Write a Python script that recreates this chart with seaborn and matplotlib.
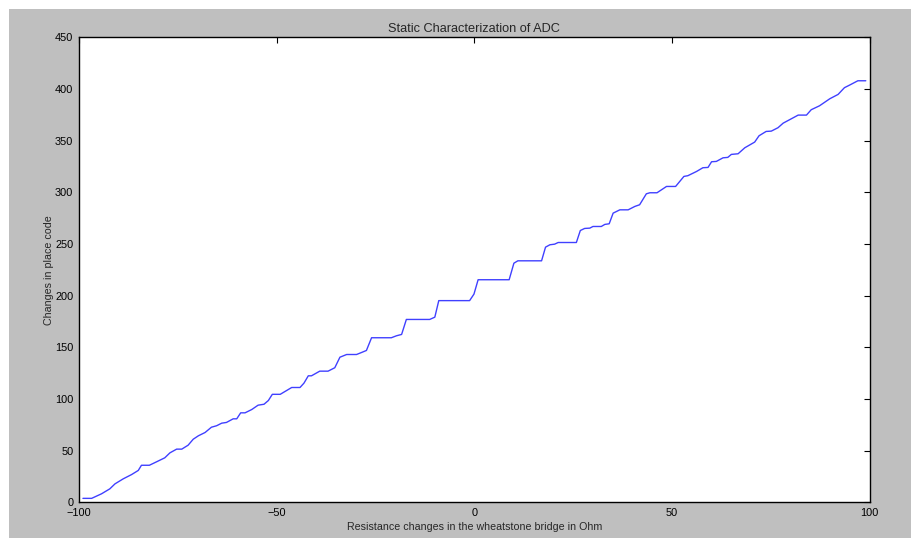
import matplotlib
matplotlib.use("Agg")
import matplotlib.pyplot as plt
import seaborn as sns
import pandas as pd
from matplotlib.patches import Rectangle

# Values (resistance change in Ohm -> code change)
resistance = [
    -99, -96.8, -94.3, -92.2, -90.9, -88.8, -86.7, -85, -84.2, -82.2,
    -80.4, -78.3, -77, -75.3, -74, -72.4, -71.1, -69.8, -68.1, -66.5,
    -65.2, -63.9, -62.7, -61, -60.1, -59.1, -58, -56.3, -54.7, -53.2,
    -52.1, -51.1, -49.1, -46.2, -44.1, -43.1, -42, -41.2, -39.1, -37,
    -35.3, -34, -32.3, -29.8, -28.5, -27.3, -26, -21, -19.7, -18.4,
    -17.2, -11.3, -10, -9, -1.2, -0.1, 0.95, 8.8, 10, 11,
    17, 18, 19.1, 20.3, 21.2, 25.8, 26.8, 27.9, 29.2, 30,
    32.1, 33, 34.1, 35.1, 36.8, 38.9, 40.6, 41.8, 43.5, 44.4,
    46.2, 48.6, 50.9, 53, 54, 56.2, 57.8, 59.1, 60, 61.2,
    62.9, 64.1, 65, 66.7, 68.4, 70.9, 72, 73.8, 75.1, 76.8,
    78.1, 80.2, 81.9, 84, 85.2, 87.3, 89.9, 92, 93.6, 94.9,
    97, 99,
]
code = [
    4, 4, 8.4, 13.2, 18, 22.9, 27, 31, 36, 36,
    39.3, 43.2, 48, 51.6, 51.6, 55.4, 61.2, 64.5, 67.7, 72.8,
    74.2, 76.7, 77.4, 80.9, 80.9, 86.7, 86.7, 89.9, 94.1, 95,
    98.6, 104.6, 104.6, 111.2, 111.2, 115.4, 122.5, 122.5, 127, 127,
    130.3, 140.5, 143.1, 143.1, 145.1, 147, 159.3, 159.3, 161.2, 162.5,
    177, 177, 179.2, 195.2, 195.2, 201.5, 215.4, 215.4, 231.4, 233.7,
    233.7, 246.9, 249.2, 249.8, 251.4, 251.4, 263, 265, 265.3, 266.9,
    266.9, 268.9, 269.5, 279.8, 283, 283, 286.3, 287.9, 298.5, 299.5,
    299.5, 305.6, 305.6, 315.3, 316, 320.1, 323.7, 324, 329.5, 329.8,
    333.3, 333.7, 336.6, 337.2, 343, 348.5, 354.6, 358.8, 359.1, 362.4,
    366.8, 371.1, 374.6, 374.6, 379.8, 383.6, 390.4, 394.6, 401.1, 403.6,
    407.8, 407.8,
]

df = pd.DataFrame({"Resistance": resistance, "Code": code})

sns.set_style("white")
plt.rcParams['font.family'] = ['Liberation Sans', 'DejaVu Sans']

fig = plt.figure(figsize=(9.11, 5.38), dpi=100, facecolor="white")
# grey canvas like the old matplotlib default, with a thin white strip top/left
fig.patches.append(Rectangle((9 / 911, 0), 1, 1 - 9 / 538, transform=fig.transFigure,
                             facecolor="#bfbfbf", edgecolor="none", zorder=-1))

ax = fig.add_axes([0.0867, 0.066, 0.868, 0.865])
sns.lineplot(data=df, x="Resistance", y="Code", ax=ax, color="#0000ff",
             linewidth=1, alpha=0.75, sort=False, estimator=None)

ax.set_xlim(-100, 100)
ax.set_ylim(0, 450)
ax.set_xticks([-100, -50, 0, 50, 100])
ax.set_xticklabels(["\u2212100", "\u221250", "0", "50", "100"])
ax.set_yticks(range(0, 451, 50))
ax.tick_params(direction="in", length=4, width=0.8, top=True, right=True,
               labelsize=7.9, colors="black", pad=4)

for s in ax.spines.values():
    s.set_color("black")
    s.set_linewidth(1)

ax.set_title("Static Characterization of ADC", fontsize=9.2, pad=4)
ax.set_xlabel("Resistance changes in the wheatstone bridge in Ohm", fontsize=7.7, labelpad=3)
ax.set_ylabel("Changes in place code", fontsize=7.7, labelpad=1)

fig.savefig("out.png", dpi=100, facecolor=fig.get_facecolor())
